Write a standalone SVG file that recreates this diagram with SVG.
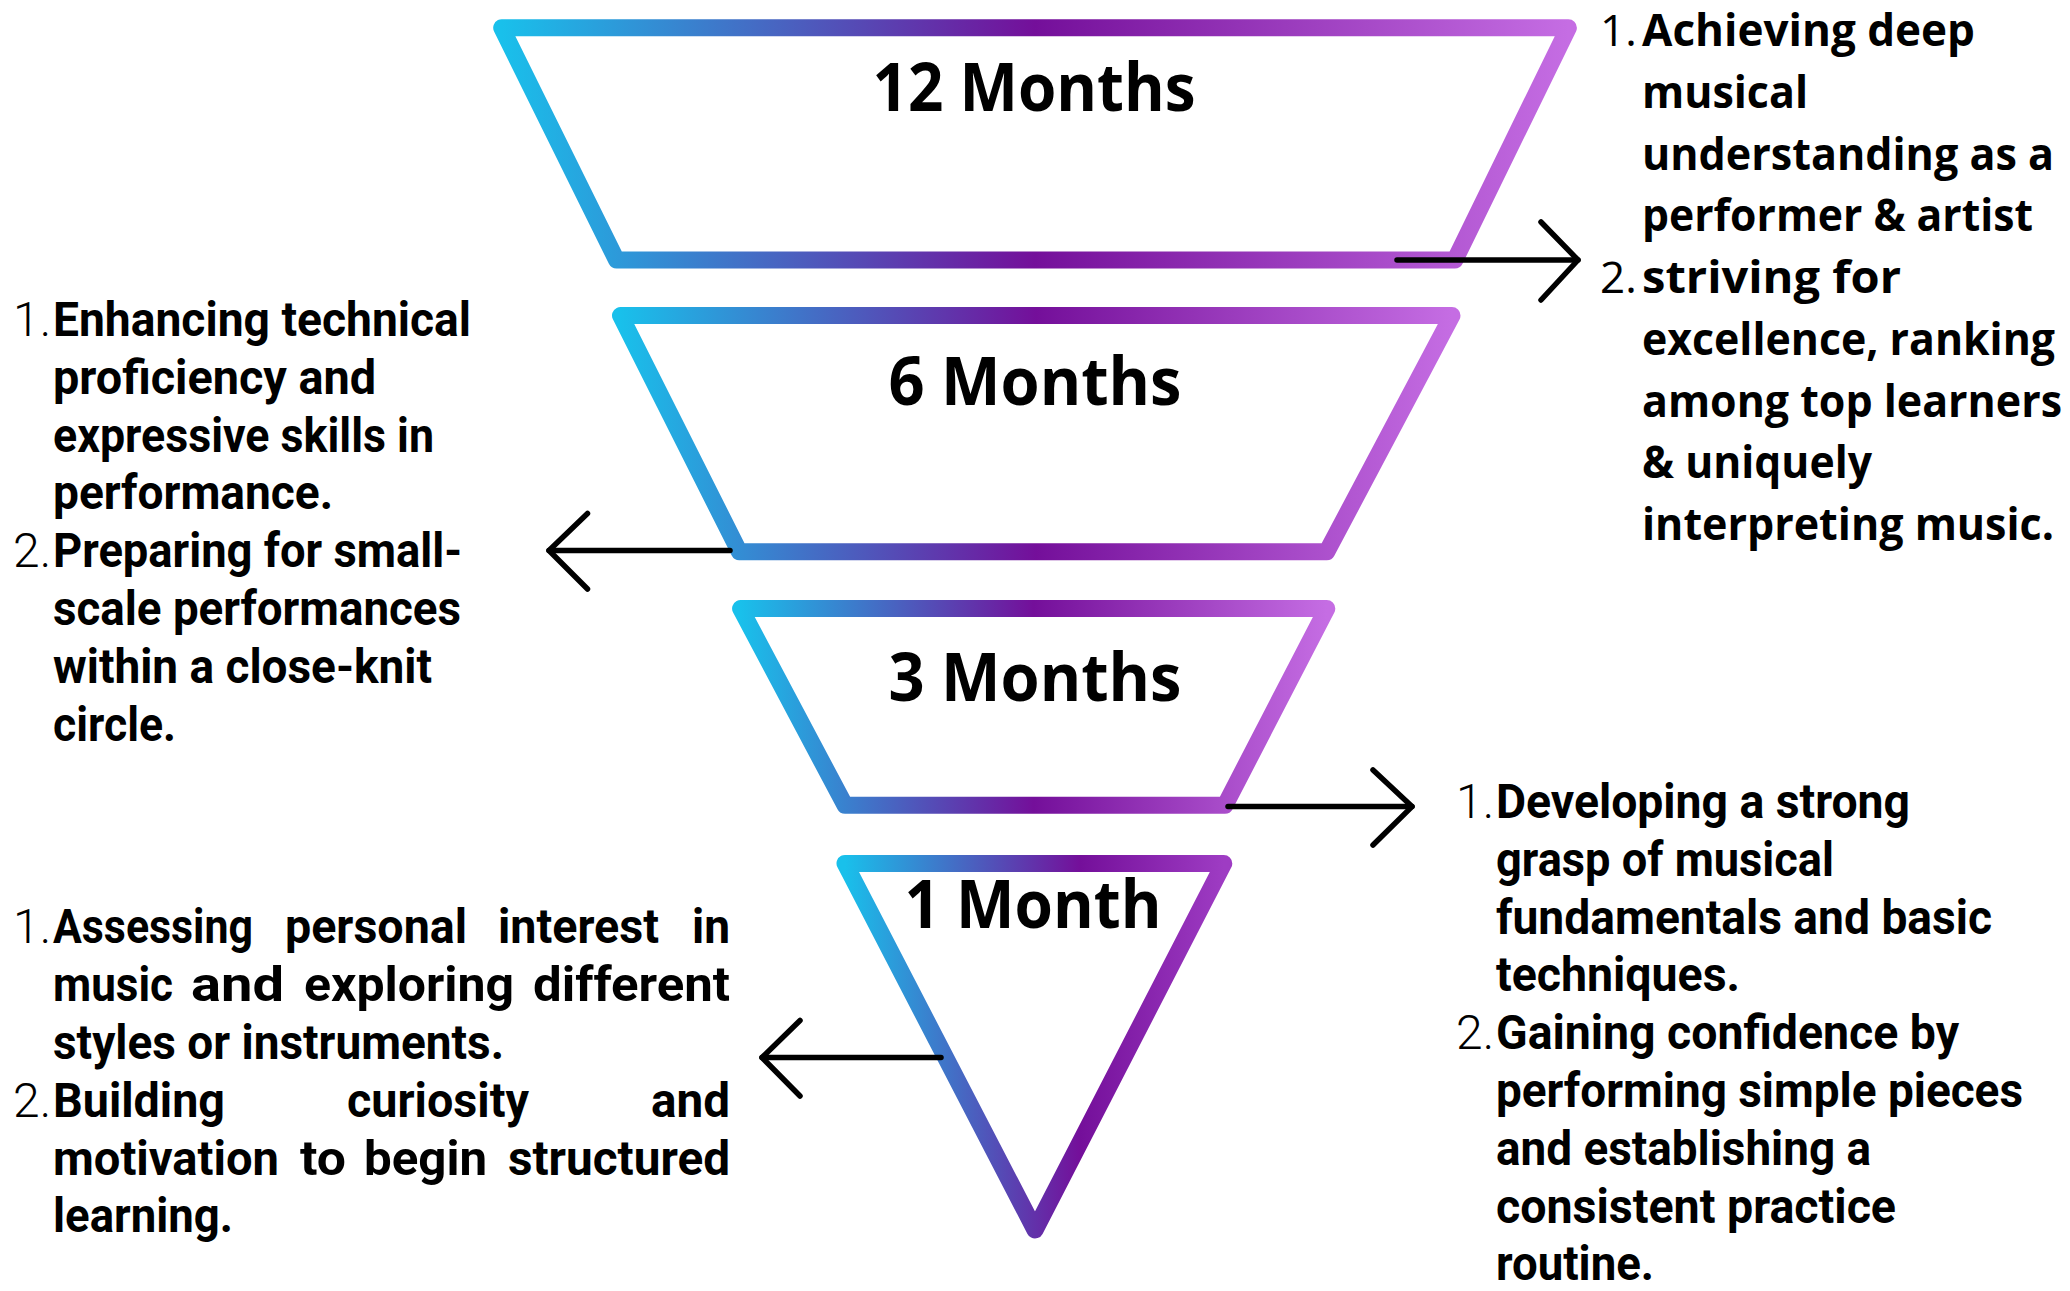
<svg xmlns="http://www.w3.org/2000/svg" width="2070" height="1291" viewBox="0 0 2070 1291">
<defs>
<linearGradient id="g1" x1="0" y1="0" x2="1" y2="0">
<stop offset="0" stop-color="#19C0EB"/>
<stop offset="0.5" stop-color="#740F9A"/>
<stop offset="1" stop-color="#C56DE3"/>
</linearGradient>
<linearGradient id="g2" x1="0" y1="0" x2="1" y2="0">
<stop offset="0" stop-color="#19C0EB"/>
<stop offset="0.62" stop-color="#740F9A"/>
<stop offset="1" stop-color="#9E3CC3"/>
</linearGradient>
<style>
.shape{fill:#fff;stroke:url(#g1);stroke-width:17;stroke-linejoin:round}
.tri{fill:#fff;stroke:url(#g2);stroke-width:17;stroke-linejoin:round}
.title{font-family:"Open Sans","Liberation Sans",sans-serif;font-weight:700;font-size:66px;fill:#000;text-anchor:middle}
.bodyA{font-family:"Open Sans","Liberation Sans",sans-serif;font-weight:700;font-size:44px;fill:#000}
.numA{font-family:"Open Sans","Liberation Sans",sans-serif;font-weight:400;font-size:44px;fill:#000}
.bodyB{font-family:Roboto,"Liberation Sans",sans-serif;font-weight:700;font-size:48px;fill:#000}
.numB{font-family:Roboto,"Liberation Sans",sans-serif;font-weight:300;font-size:48px;fill:#000}
.arr{fill:none;stroke:#000;stroke-width:5.5;stroke-linecap:round;stroke-linejoin:round}
</style>
</defs>
<rect width="2070" height="1291" fill="#fff"/>

<g id="node-12months">
<path class="shape" d="M501.7,27.7 L1568.4,27.7 L1454.9,260 L616.5,260 Z"/>
<text class="title" x="1034" y="111" textLength="323" lengthAdjust="spacingAndGlyphs">12 Months</text>
</g>

<g id="node-6months">
<path class="shape" d="M620.5,315.5 L1452,315.5 L1326.8,551.8 L739.3,551.8 Z"/>
<text class="title" x="1035" y="405" textLength="293" lengthAdjust="spacingAndGlyphs">6 Months</text>
</g>

<g id="node-3months">
<path class="shape" d="M740.6,608.6 L1326.8,608.6 L1225,805.3 L845,805.3 Z"/>
<text class="title" x="1035" y="701" textLength="293" lengthAdjust="spacingAndGlyphs">3 Months</text>
</g>

<g id="node-1month">
<path class="tri" d="M845,863.4 L1223.8,863.4 L1035,1230 Z"/>
<text class="title" x="1033" y="928" textLength="257" lengthAdjust="spacingAndGlyphs">1 Month</text>
</g>

<g id="connectors">
<line class="arr" x1="1397" y1="260" x2="1578" y2="260"/>
<polyline class="arr" points="1541,222 1578,260 1541,300"/>
<line class="arr" x1="730" y1="550.5" x2="549" y2="550.5"/>
<polyline class="arr" points="587.5,513.5 549,550.5 587.5,589"/>
<line class="arr" x1="1228" y1="806.6" x2="1412" y2="806.6"/>
<polyline class="arr" points="1373,770 1412,806.6 1373,845"/>
<line class="arr" x1="941" y1="1057.5" x2="762" y2="1057.5"/>
<polyline class="arr" points="800,1020.5 762,1057.5 800,1096"/>
</g>

<g id="text-12months">
<text class="numA" x="1600" y="46">1.</text>
<text class="numA" x="1600" y="293">2.</text>
<text class="bodyA" x="1642" y="46" textLength="333" lengthAdjust="spacingAndGlyphs">Achieving deep</text>
<text class="bodyA" x="1642" y="107.8" textLength="166" lengthAdjust="spacingAndGlyphs">musical</text>
<text class="bodyA" x="1642" y="169.5" textLength="412" lengthAdjust="spacingAndGlyphs">understanding as a</text>
<text class="bodyA" x="1642" y="231.3" textLength="391" lengthAdjust="spacingAndGlyphs">performer &amp; artist</text>
<text class="bodyA" x="1642" y="293" textLength="259" lengthAdjust="spacingAndGlyphs">striving for</text>
<text class="bodyA" x="1642" y="354.8" textLength="413" lengthAdjust="spacingAndGlyphs">excellence, ranking</text>
<text class="bodyA" x="1642" y="416.5" textLength="420" lengthAdjust="spacingAndGlyphs">among top learners</text>
<text class="bodyA" x="1642" y="478.3" textLength="230" lengthAdjust="spacingAndGlyphs">&amp; uniquely</text>
<text class="bodyA" x="1642" y="540" textLength="412" lengthAdjust="spacingAndGlyphs">interpreting music.</text>
</g>

<g id="text-6months">
<text class="numB" x="13" y="336">1.</text>
<text class="numB" x="13" y="567">2.</text>
<text class="bodyB" x="53" y="336" textLength="418" lengthAdjust="spacingAndGlyphs">Enhancing technical</text>
<text class="bodyB" x="53" y="393.8" textLength="323" lengthAdjust="spacingAndGlyphs">proficiency and</text>
<text class="bodyB" x="53" y="451.6" textLength="381" lengthAdjust="spacingAndGlyphs">expressive skills in</text>
<text class="bodyB" x="53" y="509.4" textLength="280" lengthAdjust="spacingAndGlyphs">performance.</text>
<text class="bodyB" x="53" y="567.2" textLength="409" lengthAdjust="spacingAndGlyphs">Preparing for small-</text>
<text class="bodyB" x="53" y="625" textLength="408" lengthAdjust="spacingAndGlyphs">scale performances</text>
<text class="bodyB" x="53" y="682.8" textLength="379" lengthAdjust="spacingAndGlyphs">within a close-knit</text>
<text class="bodyB" x="53" y="740.6" textLength="123" lengthAdjust="spacingAndGlyphs">circle.</text>
</g>

<g id="text-3months">
<text class="numB" x="1456" y="818">1.</text>
<text class="numB" x="1456" y="1049">2.</text>
<text class="bodyB" x="1496" y="818" textLength="414" lengthAdjust="spacingAndGlyphs">Developing a strong</text>
<text class="bodyB" x="1496" y="875.8" textLength="338" lengthAdjust="spacingAndGlyphs">grasp of musical</text>
<text class="bodyB" x="1496" y="933.6" textLength="496" lengthAdjust="spacingAndGlyphs">fundamentals and basic</text>
<text class="bodyB" x="1496" y="991.4" textLength="244" lengthAdjust="spacingAndGlyphs">techniques.</text>
<text class="bodyB" x="1496" y="1049.2" textLength="463" lengthAdjust="spacingAndGlyphs">Gaining confidence by</text>
<text class="bodyB" x="1496" y="1107" textLength="527" lengthAdjust="spacingAndGlyphs">performing simple pieces</text>
<text class="bodyB" x="1496" y="1164.8" textLength="375" lengthAdjust="spacingAndGlyphs">and establishing a</text>
<text class="bodyB" x="1496" y="1222.6" textLength="400" lengthAdjust="spacingAndGlyphs">consistent practice</text>
<text class="bodyB" x="1496" y="1280.4" textLength="158" lengthAdjust="spacingAndGlyphs">routine.</text>
</g>

<g id="text-1month">
<text class="numB" x="13" y="943">1.</text>
<text class="numB" x="13" y="1117">2.</text>
<text class="bodyB" x="53" y="943" textLength="200" lengthAdjust="spacingAndGlyphs">Assessing</text>
<text class="bodyB" x="285" y="943" textLength="182" lengthAdjust="spacingAndGlyphs">personal</text>
<text class="bodyB" x="498" y="943" textLength="161" lengthAdjust="spacingAndGlyphs">interest</text>
<text class="bodyB" x="692" y="943" textLength="38" lengthAdjust="spacingAndGlyphs">in</text>
<text class="bodyB" x="53" y="1001" textLength="120" lengthAdjust="spacingAndGlyphs">music</text>
<text class="bodyB" x="191" y="1001" textLength="93" lengthAdjust="spacingAndGlyphs">and</text>
<text class="bodyB" x="304" y="1001" textLength="210" lengthAdjust="spacingAndGlyphs">exploring</text>
<text class="bodyB" x="533" y="1001" textLength="197" lengthAdjust="spacingAndGlyphs">different</text>
<text class="bodyB" x="53" y="1059" textLength="451" lengthAdjust="spacingAndGlyphs">styles or instruments.</text>
<text class="bodyB" x="53" y="1117" textLength="172" lengthAdjust="spacingAndGlyphs">Building</text>
<text class="bodyB" x="347" y="1117" textLength="182" lengthAdjust="spacingAndGlyphs">curiosity</text>
<text class="bodyB" x="651" y="1117" textLength="79" lengthAdjust="spacingAndGlyphs">and</text>
<text class="bodyB" x="53" y="1175" textLength="226" lengthAdjust="spacingAndGlyphs">motivation</text>
<text class="bodyB" x="300" y="1175" textLength="46" lengthAdjust="spacingAndGlyphs">to</text>
<text class="bodyB" x="364" y="1175" textLength="123" lengthAdjust="spacingAndGlyphs">begin</text>
<text class="bodyB" x="508" y="1175" textLength="222" lengthAdjust="spacingAndGlyphs">structured</text>
<text class="bodyB" x="53" y="1232" textLength="180" lengthAdjust="spacingAndGlyphs">learning.</text>
</g>
</svg>
